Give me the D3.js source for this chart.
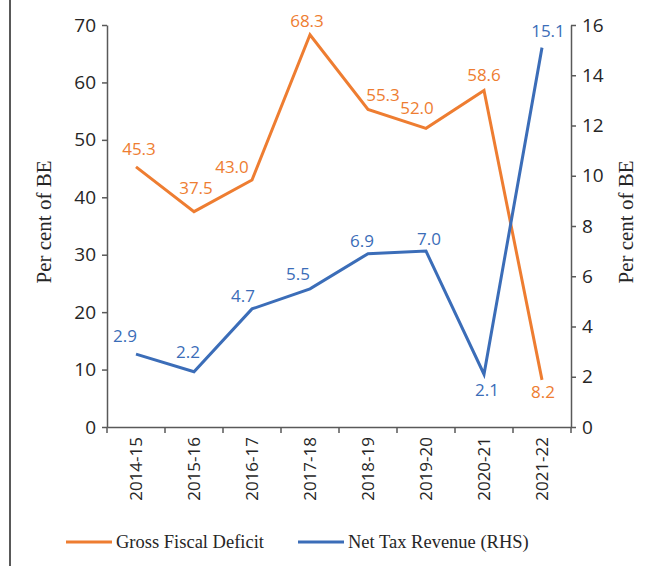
<!DOCTYPE html>
<html>
<head>
<meta charset="utf-8">
<script src="https://cdn.jsdelivr.net/npm/d3@7/dist/d3.min.js"></script>
<style>
  html, body { margin: 0; padding: 0; background: #fff; }
  svg { display: block; }
</style>
</head>
<body>
<svg id="chart" width="649" height="566"></svg>
<script>
// ---- data ----
const years = ["2014-15", "2015-16", "2016-17", "2017-18", "2018-19", "2019-20", "2020-21", "2021-22"];
const grossFiscalDeficit = [45.3, 37.5, 43.0, 68.3, 55.3, 52.0, 58.6, 8.2];
const netTaxRevenue = [2.9, 2.2, 4.7, 5.5, 6.9, 7.0, 2.1, 15.1];
const leftTicks = [0, 10, 20, 30, 40, 50, 60, 70];
const rightTicks = [0, 2, 4, 6, 8, 10, 12, 14, 16];
const seriesNames = ["Gross Fiscal Deficit", "Net Tax Revenue (RHS)"];
const axisTitle = "Per cent of BE";

// ---- label placement (dx, dy from point) ----
const gfdLabelOffset = [[3, -12], [2, -18], [-20, -7], [-3, -8], [15, -8], [-9, -14], [0, -9], [1, 18]];
const ntrLabelOffset = [[-11, -12], [-6, -14], [-9, -7], [-12, -9], [-6, -7], [3, -6], [3, 22], [6, -11]];

const orange = "#EE7D31";
const blue = "#3B6DB8";
const axisColor = "#595959";
const numFont = "'Open Sans', 'Noto Sans', sans-serif";
const serifFont = "'Liberation Serif', 'DejaVu Serif', serif";

const svg = d3.select("#chart");
const L = 107, R = 571, T = 25, B = 427;

const x = d3.scaleBand().domain(years).range([L, R]).padding(0);
const yL = d3.scaleLinear().domain([0, 70]).range([B, T]);
const yR = d3.scaleLinear().domain([0, 16]).range([B, T]);

// left border line
svg.append("line").attr("x1", 10).attr("x2", 10).attr("y1", 0).attr("y2", 566)
  .attr("stroke", "#222").attr("stroke-width", 1.5);

// left axis
const gL = svg.append("g").attr("transform", `translate(${L},0)`)
  .call(d3.axisLeft(yL).tickValues(leftTicks).tickSize(5).tickPadding(6).tickSizeOuter(0));
// right axis
const gR = svg.append("g").attr("transform", `translate(${R},0)`)
  .call(d3.axisRight(yR).tickValues(rightTicks).tickSize(5).tickPadding(6).tickSizeOuter(0));
// bottom axis
const gB = svg.append("g").attr("transform", `translate(0,${B})`)
  .call(d3.axisBottom(x).tickSize(0).tickPadding(10).tickSizeOuter(0));
gB.selectAll(".tick text")
  .attr("transform", "rotate(-90)")
  .attr("text-anchor", "end")
  .attr("x", -10).attr("y", 0).attr("dy", "0.35em");
// boundary ticks
const bounds = [L].concat(years.map(d => x(d) + x.bandwidth()));
gB.selectAll(".btick").data(bounds).enter().append("line")
  .attr("x1", d => d).attr("x2", d => d).attr("y1", 0).attr("y2", 6)
  .attr("stroke", axisColor).attr("stroke-width", 1.5);

[gL, gR, gB].forEach(g => {
  g.selectAll(".domain").attr("stroke", axisColor).attr("stroke-width", 1.5);
  g.selectAll(".tick line").attr("stroke", axisColor).attr("stroke-width", 1.5);
  g.selectAll(".tick text").attr("fill", "#262626").style("font-family", numFont).style("font-size", "19px");
});
gB.selectAll(".tick text").style("font-size", "17px");

// axis titles
svg.append("text").attr("transform", `translate(51,222) rotate(-90)`)
  .attr("text-anchor", "middle").attr("fill", "#262626")
  .style("font-family", serifFont).style("font-size", "21px").text(axisTitle);
svg.append("text").attr("transform", `translate(633,222) rotate(-90)`)
  .attr("text-anchor", "middle").attr("fill", "#262626")
  .style("font-family", serifFont).style("font-size", "21px").text(axisTitle);

// lines
const cx = d => x(d) + x.bandwidth() / 2;
const lineL = d3.line().x((d, i) => cx(years[i])).y(d => yL(d));
const lineR = d3.line().x((d, i) => cx(years[i])).y(d => yR(d));

svg.append("path").datum(grossFiscalDeficit).attr("d", lineL)
  .attr("fill", "none").attr("stroke", orange).attr("stroke-width", 3).attr("stroke-linejoin", "miter");
svg.append("path").datum(netTaxRevenue).attr("d", lineR)
  .attr("fill", "none").attr("stroke", blue).attr("stroke-width", 3).attr("stroke-linejoin", "miter");

// data labels
svg.append("g").selectAll("text").data(grossFiscalDeficit).enter().append("text")
  .attr("x", (d, i) => cx(years[i]) + gfdLabelOffset[i][0])
  .attr("y", (d, i) => yL(d) + gfdLabelOffset[i][1])
  .attr("text-anchor", "middle").attr("fill", orange)
  .style("font-family", numFont).style("font-size", "17px")
  .text(d => d.toFixed(1));
svg.append("g").selectAll("text").data(netTaxRevenue).enter().append("text")
  .attr("x", (d, i) => cx(years[i]) + ntrLabelOffset[i][0])
  .attr("y", (d, i) => yR(d) + ntrLabelOffset[i][1])
  .attr("text-anchor", "middle").attr("fill", blue)
  .style("font-family", numFont).style("font-size", "17px")
  .text(d => d.toFixed(1));

// legend
const legend = svg.append("g");
const legItems = [{ name: seriesNames[0], color: orange, x: 66 }, { name: seriesNames[1], color: blue, x: 298 }];
legItems.forEach(it => {
  legend.append("line").attr("x1", it.x).attr("x2", it.x + 46).attr("y1", 542).attr("y2", 542)
    .attr("stroke", it.color).attr("stroke-width", 3);
  legend.append("text").attr("x", it.x + 50).attr("y", 548)
    .attr("fill", "#262626").style("font-family", serifFont).style("font-size", "18.5px").text(it.name);
});
</script>
</body>
</html>
